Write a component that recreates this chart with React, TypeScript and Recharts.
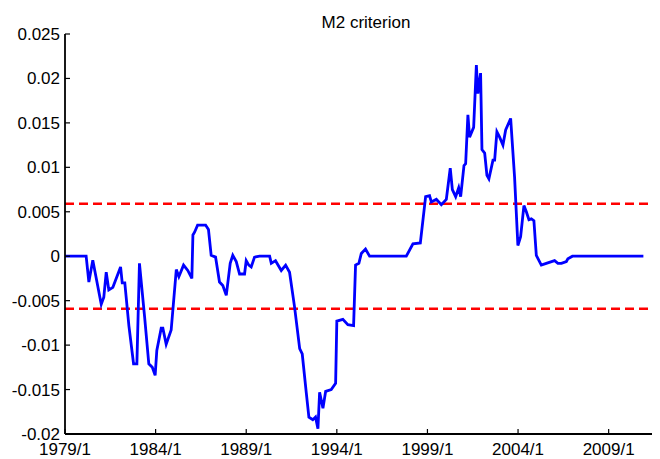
import { LineChart, Line, XAxis, YAxis, ReferenceLine } from 'recharts'

// month index (0 = 1979/1) of each vertex
const months = [
  0, 14, 15.8, 18.4, 24, 25.7, 27.3, 29, 31.7, 36.8, 37.9, 39.6, 42.3, 45.4, 47.6, 49.3,
  52.7, 55.5, 57.8, 59.7, 60.8, 63.7, 64.8, 67, 70.3, 73.7, 75.4, 78.5, 81.3, 84, 84.7,
  85.8, 87.8, 93.1, 95, 96.8, 99.7, 102.3, 104.5, 106.8, 109.4, 111.1, 113.4, 115.6,
  118.9, 120, 121.7, 123.3, 125.5, 128.8, 135.5, 136.6, 139.4, 143.2, 146.1, 148.7, 152,
  155.4, 157.1, 159.8, 161.5, 164.1, 165.9, 167.5, 168.6, 170.8, 172.6, 176.3, 179.2,
  180, 184, 187.3, 191.1, 192.4, 194.6, 196.2, 199, 201.7, 226, 230.4, 235.3, 238.8,
  241.4, 242.6, 245.9, 249.2, 252.5, 255.1, 256.5, 258.7, 260.7, 262, 264.2, 265.3,
  266.8, 267.9, 270.6, 272.4, 273.4, 275.2, 276.1, 277.9, 279.4, 280.7, 283.4, 284.5,
  286, 287.8, 290, 291.8, 295.1, 297.7, 299.9, 301.7, 303.9, 305.5, 307.2, 308.8, 310.5,
  312.1, 315.4, 318.7, 324.2, 326.4, 328.7, 332, 333, 336, 383,
]

const m2Values = [
  0, 0, -0.0029, -0.00045, -0.0054, -0.0046, -0.0018, -0.0038, -0.0035, -0.0012, -0.003,
  -0.003, -0.0078, -0.0121, -0.0121, -0.0008, -0.0068, -0.0121, -0.0125, -0.0134, -0.0106,
  -0.0081, -0.0081, -0.0099, -0.0083, -0.0015, -0.0023, -0.001, -0.0016, -0.0025, 0.0024,
  0.0027, 0.0035, 0.0035, 0.003, 0.0001, -0.0001, -0.0029, -0.0033, -0.0044, -0.0008,
  0.0001, -0.0006, -0.002, -0.002, -0.0005, -0.001, -0.0012, -0.0001, 0, 0, -0.0008,
  -0.0005, -0.0016, -0.001, -0.0018, -0.0057, -0.0104, -0.011, -0.0154, -0.0181, -0.0184,
  -0.0181, -0.0194, -0.0153, -0.0171, -0.0152, -0.015, -0.0143, -0.0073, -0.0071, -0.0077,
  -0.0078, -0.001, -0.0008, 0.0003, 0.0008, 0, 0, 0.0014, 0.0015, 0.0067, 0.0068, 0.0061,
  0.0064, 0.0058, 0.0064, 0.0099, 0.0075, 0.0067, 0.0077, 0.0067, 0.0102, 0.0104, 0.0159,
  0.0134, 0.0145, 0.0215, 0.0183, 0.0206, 0.012, 0.0116, 0.0091, 0.0087, 0.0108, 0.0108,
  0.014, 0.0134, 0.0125, 0.0142, 0.0155, 0.0089, 0.0012, 0.0022, 0.0057, 0.005, 0.0041,
  0.0042, 0.004, 0.0001, -0.001, -0.0008, -0.0005, -0.0008, -0.0008, -0.0006, -0.0003, 0, 0,
]

const upperBound = 0.0059
const lowerBound = -0.0059

const xTicks = [0, 60, 120, 180, 240, 300, 360]
const xTickLabels = ['1979/1', '1984/1', '1989/1', '1994/1', '1999/1', '2004/1', '2009/1']
const yTicks = [-0.02, -0.015, -0.01, -0.005, 0, 0.005, 0.01, 0.015, 0.02, 0.025]
const yTickLabels = ['-0.02', '-0.015', '-0.01', '-0.005', '0', '0.005', '0.01', '0.015', '0.02', '0.025']

const data = months.map((m, i) => ({ m, v: m2Values[i] }))

const FONT = '"Liberation Sans", Arial, sans-serif'

const BottomTick = (props: any) => {
  const { x, y, payload } = props
  const idx = xTicks.indexOf(payload.value)
  return (
    <g>
      <line x1={x} x2={x} y1={y} y2={y - 5} stroke="#000" strokeWidth={1.2} />
      <text x={x} y={y + 21} textAnchor="middle" fontSize={17} fontFamily={FONT} fill="#000">
        {xTickLabels[idx]}
      </text>
    </g>
  )
}

const TopTick = (props: any) => {
  const { x, y } = props
  return <line x1={x} x2={x} y1={y} y2={y + 5} stroke="#000" strokeWidth={1.2} />
}

const LeftTick = (props: any) => {
  const { x, y, payload } = props
  const idx = yTicks.findIndex(t => Math.abs(t - payload.value) < 1e-9)
  return (
    <g>
      <line x1={x} x2={x + 5} y1={y} y2={y} stroke="#000" strokeWidth={1.2} />
      <text x={x - 5} y={y + 6} textAnchor="end" fontSize={17} fontFamily={FONT} fill="#000">
        {yTickLabels[idx]}
      </text>
    </g>
  )
}

export default function App() {
  return (
    <div style={{ position: 'relative', width: 652, height: 451 }}>
      <div
        style={{
          position: 'absolute',
          left: 258,
          top: 6,
          width: 200,
          textAlign: 'center',
          fontFamily: FONT,
          fontSize: 17,
          lineHeight: '17px',
          color: '#000',
        }}
      >
        M2 criterion
      </div>
      <LineChart width={652} height={451} data={data} margin={{ top: 26, right: 0, left: 0, bottom: 0 }}>
        <XAxis
          dataKey="m"
          type="number"
          domain={[0, 394]}
          ticks={xTicks}
          height={25}
          tickSize={0}
          tickMargin={0}
          tickLine={false}
          axisLine={{ stroke: '#000', strokeWidth: 1.8 }}
          tick={BottomTick}
          allowDataOverflow
        />
        <XAxis
          xAxisId="top"
          orientation="top"
          dataKey="m"
          type="number"
          domain={[0, 394]}
          ticks={xTicks}
          height={0}
          tickSize={0}
          tickMargin={0}
          tickLine={false}
          axisLine={{ stroke: '#000', strokeWidth: 1.5 }}
          tick={TopTick}
          allowDataOverflow
        />
        <YAxis
          type="number"
          domain={[-0.02, 0.025]}
          ticks={yTicks}
          width={57}
          tickSize={0}
          tickMargin={0}
          tickLine={false}
          axisLine={{ stroke: '#000', strokeWidth: 1.8 }}
          tick={LeftTick}
          allowDataOverflow
        />
        <ReferenceLine y={upperBound} stroke="#ff0000" strokeWidth={2.5} strokeDasharray="9 5" />
        <ReferenceLine y={lowerBound} stroke="#ff0000" strokeWidth={2.5} strokeDasharray="9 5" />
        <Line
          type="linear"
          dataKey="v"
          stroke="#0000ff"
          strokeWidth={2.8}
          dot={false}
          isAnimationActive={false}
        />
      </LineChart>
    </div>
  )
}
